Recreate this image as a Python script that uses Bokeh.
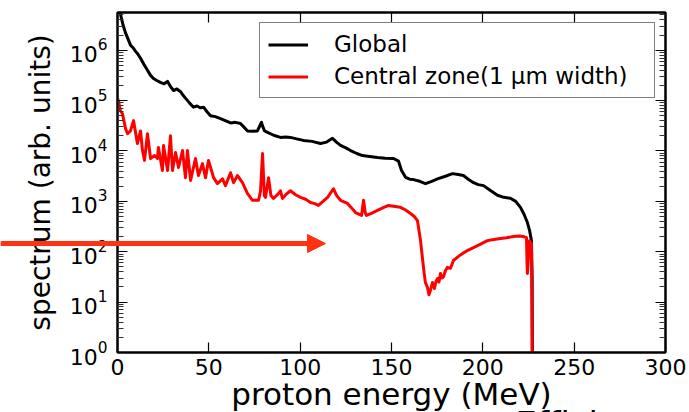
import math

from bokeh.embed import file_html
from bokeh.layouts import column
from bokeh.models import (Arrow, CustomJSTickFormatter, FixedTicker, Label, Legend,
                          LegendItem, LinearAxis, NormalHead, Range1d)
from bokeh.plotting import figure
from bokeh.resources import INLINE

# Proton energy spectra (MeV, arbitrary units)
energy_global = [0.5, 1.6, 3.0, 4.4, 5.8, 7.1, 8.5, 9.9, 11.2, 12.6, 14.5, 16.4, 18.0,
                 19.7, 21.5, 23.5, 25.5, 27.4, 29.0, 30.7, 32.5, 34.5, 36.0, 37.2, 39.5,
                 41.6, 43.5, 45.3, 47.1, 49.0, 50.9, 53.5, 56.4, 59.0, 61.9, 64.5, 67.3,
                 69.5, 71.2, 74.0, 76.6, 78.0, 78.8, 79.6, 80.5, 82.1, 85.5, 89.2, 92.0,
                 94.7, 98.0, 101.8, 106.5, 111.1, 114.5, 117.7, 120.0, 122.1, 125.0,
                 127.6, 131.0, 134.1, 138.0, 142.3, 146.5, 151.1, 153.8, 155.5, 157.7,
                 160.0, 162.0, 165.5, 168.6, 172.0, 175.2, 179.5, 183.4, 186.5, 189.4,
                 192.0, 194.9, 197.5, 200.4, 204.0, 208.0, 211.5, 215.1, 218.0, 220.6,
                 222.5, 224.4, 225.6, 226.6, 227.0, 227.2]
spectrum_global = [8.9e6, 5.2e6, 3.2e6, 2.2e6, 1.66e6, 1.26e6, 1.12e6, 9.5e5, 8.3e5,
                   6.9e5, 5.2e5, 4.0e5, 3.2e5, 2.75e5, 2.5e5, 2.3e5, 2.15e5, 2.4e5,
                   1.9e5, 1.58e5, 1.7e5, 1.5e5, 1.26e5, 1.12e5, 8.9e4, 7.4e4, 7.8e4,
                   7.2e4, 7.4e4, 6.0e4, 5.0e4, 4.8e4, 4.4e4, 4.0e4, 3.6e4, 3.7e4, 3.5e4,
                   2.9e4, 2.5e4, 2.45e4, 2.5e4, 3.2e4, 3.7e4, 3.0e4, 2.5e4, 2.35e4,
                   2.05e4, 1.86e4, 1.9e4, 1.86e4, 1.74e4, 1.62e4, 1.55e4, 1.41e4, 1.5e4,
                   1.78e4, 1.48e4, 1.29e4, 1.15e4, 1.02e4, 8.9e3, 8.1e3, 7.8e3, 7.4e3,
                   7.2e3, 7.1e3, 6.3e3, 4.1e3, 3.0e3, 2.75e3, 2.7e3, 2.5e3, 2.24e3,
                   2.5e3, 2.8e3, 3.15e3, 3.55e3, 3.4e3, 3.25e3, 2.75e3, 2.35e3, 2.15e3,
                   2.05e3, 1.66e3, 1.32e3, 1.2e3, 1.15e3, 1.0e3, 760, 560, 380, 263,
                   166, 32, 0.1]

energy_central = [0.0, 0.5, 1.6, 2.7, 4.4, 5.5, 7.1, 8.8, 10.9, 12.6, 13.7, 14.8, 16.4,
                  18.1, 20.3, 21.9, 22.4, 24.6, 25.2, 27.4, 29.0, 30.1, 31.8, 33.4, 35.6,
                  37.2, 38.3, 40.0, 42.7, 44.3, 46.5, 48.2, 49.8, 52.6, 54.7, 57.5, 59.1,
                  61.9, 63.5, 65.7, 68.4, 71.2, 73.9, 77.2, 78.3, 79.4, 80.4, 81.0, 82.7,
                  84.0, 85.4, 88.1, 89.2, 90.3, 92.5, 94.7, 97.5, 100.2, 103.0, 105.7,
                  108.0, 110.0, 112.5, 115.0, 118.2, 120.0, 122.1, 125.9, 128.0, 130.3,
                  133.6, 134.7, 135.6, 136.3, 139.0, 142.3, 145.5, 148.4, 151.0, 154.9,
                  157.5, 160.4, 162.5, 164.2, 165.9, 167.5, 168.5, 169.7, 170.5, 171.3,
                  172.4, 173.5, 174.4, 175.2, 176.0, 176.8, 177.6, 178.5, 179.5, 180.6,
                  182.3, 183.9, 186.5, 188.9, 192.0, 194.9, 198.5, 202.5, 206.0, 209.7,
                  213.0, 216.8, 220.0, 222.3, 223.9, 224.2, 224.4, 224.8, 225.5, 226.6,
                  227.2]
spectrum_central = [1.1e5, 1.0e5, 6.3e4, 5.5e4, 2.8e4, 2.2e4, 2.5e4, 4.0e4, 1.4e4, 2.5e4,
                    1.02e4, 6.5e3, 2.2e4, 7.1e3, 8.1e3, 7.1e3, 1.17e4, 4.1e3, 1.28e4,
                    4.1e3, 2.0e4, 4.1e3, 9.3e3, 4.7e3, 1.02e4, 2.95e3, 1.02e4, 2.6e3,
                    7.1e3, 3.25e3, 5.6e3, 2.95e3, 6.5e3, 2.95e3, 2.25e3, 2.8e3, 2.05e3,
                    3.7e3, 2.35e3, 3.25e3, 2.35e3, 1.42e3, 1.05e3, 1.05e3, 1.6e3, 8.9e3,
                    1.3e3, 1.2e3, 2.95e3, 1.3e3, 1.14e3, 1.42e3, 1.62e3, 1.14e3, 1.4e3,
                    1.62e3, 1.35e3, 1.2e3, 1.1e3, 950, 900, 830, 1.0e3, 1.2e3, 1.78e3,
                    1.3e3, 1.05e3, 910, 750, 600, 525, 1.05e3, 600, 525, 580, 660, 750,
                    830, 800, 760, 680, 575, 500, 415, 166, 49, 25, 19.5, 14, 17, 24.5,
                    18.6, 26, 29.5, 25, 37, 30, 32, 42, 49, 47, 67, 80, 92, 108, 121,
                    140, 166, 175, 183, 190, 200, 205, 200, 190, 60, 37, 60, 166, 145,
                    0.1]

x_ticks = [0, 50, 100, 150, 200, 250, 300]
y_decades = [1e0, 1e1, 1e2, 1e3, 1e4, 1e5, 1e6]
y_minor = [m * d for d in y_decades for m in range(2, 10)]

label_global = "Global"
label_central = "Central zone(1 μm width)"
x_title = "proton energy (MeV)"
y_title = "spectrum (arb. units)"
caption = "Efficiency"

FONT = "DejaVu Sans"
ARROW_COLOR = "#ff3311"
W, H = 689, 412

p = figure(width=W, height=H, output_backend="svg", toolbar_location=None,
           y_axis_type="log", x_range=Range1d(0, 300), y_range=Range1d(1, 5.6e6),
           min_border_left=117, min_border_right=24, min_border_top=12,
           min_border_bottom=60, frame_align=False)
p.grid.visible = False
p.outline_line_color = "black"
p.outline_line_width = 2
p.background_fill_color = "white"
p.border_fill_color = "white"

blank = CustomJSTickFormatter(code="return ''")


def style_axis(ax, show_labels, minor):
    ax.axis_line_color = "black"
    ax.axis_line_width = 2
    ax.major_tick_in = 10
    ax.major_tick_out = 0
    ax.major_tick_line_color = "black"
    ax.major_tick_line_width = 1.2
    if minor:
        ax.minor_tick_in = 6
        ax.minor_tick_out = 0
        ax.minor_tick_line_color = "#333333"
        ax.minor_tick_line_width = 1
    else:
        ax.minor_tick_line_color = None
    ax.major_label_text_font = FONT
    ax.major_label_text_color = "black"
    ax.major_label_text_font_style = "normal"
    if show_labels:
        ax.major_label_text_font_size = "22px"
    else:
        ax.formatter = blank
        ax.major_label_text_font_size = "1px"
        ax.major_label_standoff = 0


# bottom and left axes carry the tick labels
xb = p.xaxis[0]
xb.ticker = FixedTicker(ticks=x_ticks)
style_axis(xb, True, False)
xb.major_label_standoff = 6

yl = p.yaxis[0]
yl.ticker = FixedTicker(ticks=y_decades, minor_ticks=y_minor)
style_axis(yl, True, True)
yl.major_label_standoff = 10

# mirrored tick marks on top and right
xt = LinearAxis(ticker=FixedTicker(ticks=x_ticks))
style_axis(xt, False, False)
p.add_layout(xt, "above")

yr = LinearAxis(ticker=FixedTicker(ticks=y_decades, minor_ticks=y_minor))
style_axis(yr, False, True)
p.add_layout(yr, "right")

r_glob = p.line(energy_global, spectrum_global, line_color="black", line_width=3,
                line_join="round")
r_cent = p.line(energy_central, spectrum_central, line_color="red", line_width=3,
                line_join="round")

legend = Legend(items=[LegendItem(label=label_global, renderers=[r_glob]),
                       LegendItem(label=label_central, renderers=[r_cent])],
                location="top_right", margin=10, padding=8, spacing=6,
                glyph_width=40, glyph_height=25, label_height=25,
                label_standoff=26, label_width=312,
                label_text_font=FONT, label_text_font_size="23px",
                label_text_color="black",
                border_line_color="black", border_line_width=1,
                background_fill_color="white", background_fill_alpha=1)
p.add_layout(legend)

# transparent layer over the whole page (data units = page pixels, y downwards)
# for the axis titles, the caption and the pointer arrow
over = figure(width=W, height=H, output_backend="svg", toolbar_location=None,
              x_range=Range1d(0, W), y_range=Range1d(H, 0), min_border=0,
              x_axis_location=None, y_axis_location=None,
              background_fill_color=None, border_fill_color=None,
              outline_line_color=None, margin=(-H, 0, 0, 0), frame_align=False)
over.grid.visible = False

over.add_layout(Label(x=40, y=182, text=y_title, angle=math.pi / 2,
                      text_align="center", text_baseline="middle",
                      text_font=FONT, text_font_size="28px", text_color="black"))
over.add_layout(Label(x=391, y=393, text=x_title, text_align="center",
                      text_baseline="alphabetic", text_font=FONT,
                      text_font_size="31px", text_color="black"))
over.add_layout(Label(x=515, y=423, text=caption, text_align="left",
                      text_baseline="alphabetic", text_font=FONT,
                      text_font_size="34px", text_color="black"))
over.add_layout(Arrow(end=NormalHead(size=18, fill_color=ARROW_COLOR,
                                     line_color=ARROW_COLOR, line_width=1),
                      x_start=0, y_start=243, x_end=325, y_end=243,
                      line_color=ARROW_COLOR, line_width=5))

page = column(p, over, spacing=0)
open("out.html", "w").write(file_html(page, INLINE))
